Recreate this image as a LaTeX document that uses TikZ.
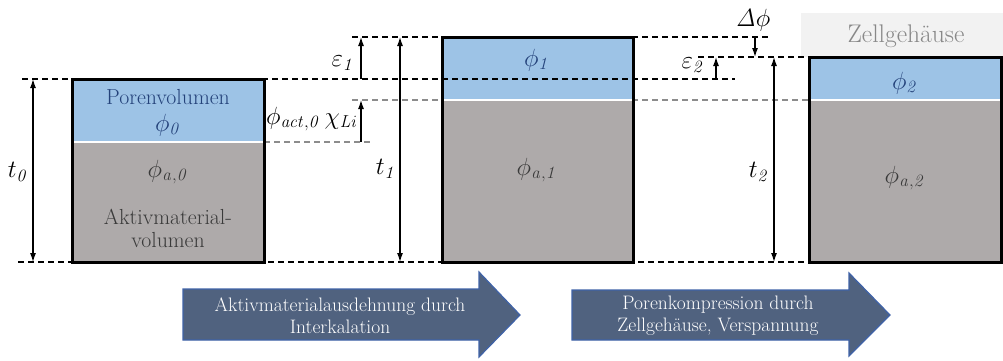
\documentclass[tikz,border=0pt]{standalone}
\usetikzlibrary{arrows.meta}
\definecolor{pore}{HTML}{9DC3E6}
\definecolor{solidgray}{HTML}{AEAAAA}
\definecolor{poretext}{HTML}{24427A}
\definecolor{soltext}{HTML}{3A3A3A}
\definecolor{arrfill}{HTML}{50627F}
\definecolor{arrdraw}{HTML}{3F62A8}
\definecolor{housing}{HTML}{F2F2F2}
\definecolor{housetext}{HTML}{888888}
\definecolor{dashgray}{HTML}{8C8C8C}
\newcommand\mlab{\fontsize{25}{25}\selectfont}
\begin{document}
\begin{tikzpicture}[x=1pt,y=-1pt,
  guide/.style={dash pattern=on 6pt off 4pt, line width=1.3pt},
  guideblack/.style={guide, draw=black},
  guidegray/.style={guide, draw=dashgray},
  dimarrow/.style={line width=1.2pt, -{Latex[length=9pt,width=6pt]}},
  dimboth/.style={line width=1.2pt, {Latex[length=9pt,width=6pt]}-{Latex[length=9pt,width=6pt]}},
  cellborder/.style={line width=3pt, draw=black},
  lab/.style={font=\mlab, inner sep=0pt},
  porelab/.style={lab, text=poretext},
  sollab/.style={lab, text=soltext},
  boxtext/.style={font=\fontsize{21.8}{23}\selectfont, inner sep=0pt},
  flow/.style={fill=arrfill, draw=arrdraw, line width=1.2pt},
  flowtext/.style={font=\fontsize{19.5}{22}\selectfont, text=white, align=center, inner sep=0pt}
]
\useasboundingbox (0,0) rectangle (1003,360);

% coordinates for guide lines
\coordinate (g37a) at (352,37);  \coordinate (g37b) at (770,37);
\coordinate (g79a) at (22,79);   \coordinate (g79b) at (735,79);
\coordinate (g57a) at (698,57);  \coordinate (g57b) at (809,57);
\coordinate (g262a) at (18,262); \coordinate (g262b) at (1003,262);
\coordinate (g100a) at (352,100); \coordinate (g100b) at (809,100);
\coordinate (g142a) at (264,142); \coordinate (g142b) at (370,142);

% gray guides (behind)
\draw[guidegray] (g100a) -- (g100b);
\draw[guidegray] (g142a) -- (g142b);

% housing
\fill[housing] (801,13) rectangle (1003,57);
\node[font=\fontsize{25.5}{26}\selectfont, inner sep=0pt, text=housetext] (house) at (906,36) {Zellgehäuse};

% cell 0
\fill[pore] (72,79) rectangle (264,142);
\fill[solidgray] (72,142) rectangle (264,262);
\draw[white, line width=1.5pt] (72,142) -- (264,142);
\draw[cellborder] (72,79) rectangle (264,262);
% cell 1
\fill[pore] (442,37) rectangle (633,100);
\fill[solidgray] (442,100) rectangle (633,262);
\draw[white, line width=1.5pt] (442,100) -- (633,100);
\draw[cellborder] (442,37) rectangle (633,262);
% cell 2
\fill[pore] (809,57) rectangle (1001,100);
\fill[solidgray] (809,100) rectangle (1001,262);
\draw[white, line width=1.5pt] (809,100) -- (1001,100);
\draw[cellborder] (809,57) rectangle (1001,262);

% black guides
\draw[guideblack] (g37a) -- (g37b);
\draw[guideblack] (g79a) -- (g79b);
\draw[guideblack] (g57a) -- (g57b);
\draw[guideblack] (g262a) -- (g262b);

% dimension coordinates
\coordinate (t0top) at (33,79);   \coordinate (t0bot) at (33,262);
\coordinate (e1bot) at (361,79);  \coordinate (e1top) at (361,37);
\coordinate (xbot) at (361,142);  \coordinate (xtop) at (361,100);
\coordinate (t1top) at (400,37);  \coordinate (t1bot) at (400,262);
\coordinate (dptop) at (755,37);  \coordinate (dpbot) at (755,57);
\coordinate (e2bot) at (716,79);  \coordinate (e2top) at (716,57);
\coordinate (t2top) at (774,57);  \coordinate (t2bot) at (774,262);

\draw[dimboth] (t0top) -- (t0bot);
\draw[dimarrow] (e1bot) -- (e1top);
\draw[dimarrow] (xbot) -- (xtop);
\draw[dimboth] (t1top) -- (t1bot);
\draw[dimarrow] (dptop) -- (dpbot);
\draw[dimarrow] (e2bot) -- (e2top);
\draw[dimboth] (t2top) -- (t2bot);

% labels
\node[lab] (lt0) at (18,172) {$t_{\mathit{0}}$};
\node[lab] (lt1) at (386,169) {$t_{\mathit{1}}$};
\node[lab] (lt2) at (759,172) {$t_{\mathit{2}}$};
\node[lab] (le1) at (343,63) {$\varepsilon_{\mathit{1}}$};
\node[lab] (le2) at (693,65) {$\varepsilon_{\mathit{2}}$};
\node[lab] (ldp) at (753,20) {$\mathit{\Delta}\phi$};
\node[lab, anchor=east] (lx) at (358,119) {$\phi_{\mathit{act,0}}\,\chi_{\mathit{Li}}$};

% cell texts
\node[boxtext, text=poretext] (pv) at (168,97) {Porenvolumen};
\node[porelab] (p0) at (168,125) {$\phi_{\mathit{0}}$};
\node[sollab] (pa0) at (168,172) {$\phi_{\mathit{a,0}}$};
\node[boxtext, text=soltext, align=center] (av) at (168,228) {Aktivmaterial-\\volumen};
\node[porelab] (p1) at (537,60) {$\phi_{\mathit{1}}$};
\node[sollab] (pa1) at (537,170) {$\phi_{\mathit{a,1}}$};
\node[porelab] (p2) at (905,83) {$\phi_{\mathit{2}}$};
\node[sollab] (pa2) at (905,178) {$\phi_{\mathit{a,2}}$};

% process arrows
\draw[flow] (183,289) -- (479,289) -- (479,272) -- (520,315) -- (479,357) -- (479,340) -- (183,340) -- cycle;
\node[flowtext] (f1) at (340,316) {Aktivmaterialausdehnung durch\\Interkalation};
\draw[flow] (572,290) -- (849,290) -- (849,273) -- (890,315) -- (849,356) -- (849,340) -- (572,340) -- cycle;
\node[flowtext] (f2) at (718,316) {Porenkompression durch\\Zellgehäuse, Verspannung};
\end{tikzpicture}
\end{document}
